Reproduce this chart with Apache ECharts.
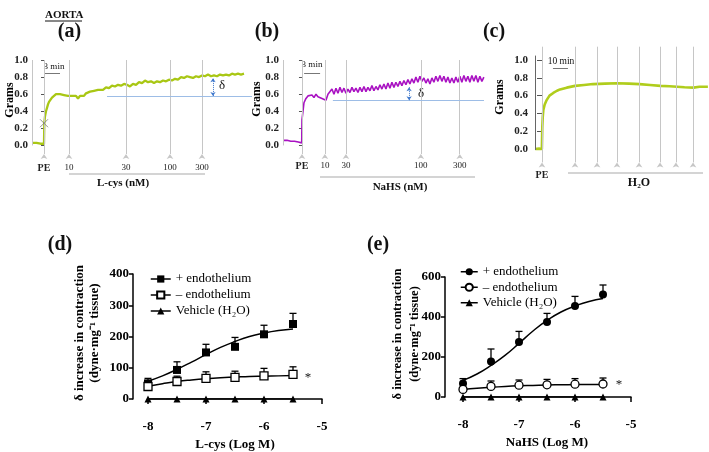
<!DOCTYPE html>
<html><head><meta charset="utf-8">
<script src="https://cdn.jsdelivr.net/npm/echarts@6/dist/echarts.min.js"></script>
<style>html,body{margin:0;padding:0;background:#fff}#c{width:709px;height:452px}</style>
</head><body><div id="c"></div><script>
const SERIF = '"Liberation Serif","Times New Roman",serif';

// ---------- Panel (a): L-cys trace (time in min, tension in grams) ----------
const aTrace = [[-2.3,0.03],[-1.9,0.02],[-1.5,0.03],[-1.1,0.01],[-0.7,0.02],[-0.3,0.01],[0,0.02],[0.06,0.26],[0.2,0.34],[0.4,0.4],[0.6,0.44],[0.8,0.48],[1.0,0.51],[1.2,0.53],[1.6,0.56],[2.0,0.58],[2.4,0.6],[2.8,0.61],[3.2,0.6],[3.6,0.62],[4.0,0.59],[4.4,0.61],[4.8,0.58],[5.2,0.6],[5.6,0.58],[6.0,0.56],[6.4,0.58],[6.8,0.55],[7.2,0.58],[7.6,0.6],[8.0,0.58],[8.4,0.61],[8.8,0.6],[9.2,0.63],[9.6,0.62],[10.0,0.64],[10.4,0.62],[10.8,0.65],[11.2,0.66],[11.8,0.65],[12.4,0.68],[13.0,0.67],[13.6,0.7],[14.2,0.69],[14.8,0.71],[15.4,0.7],[16.0,0.72],[16.6,0.71],[17.2,0.69],[17.8,0.72],[18.4,0.71],[19.0,0.74],[19.6,0.73],[20.2,0.76],[20.8,0.74],[21.4,0.75],[22.0,0.73],[22.6,0.75],[23.2,0.74],[23.8,0.76],[24.4,0.75],[25.0,0.77],[25.6,0.76],[26.2,0.78],[26.8,0.77],[27.4,0.8],[28.0,0.79],[28.6,0.81],[29.2,0.8],[29.8,0.79],[30.4,0.81],[31.0,0.8],[31.6,0.82],[32.2,0.81],[32.8,0.83],[33.4,0.81],[34.0,0.82],[34.6,0.81],[35.2,0.83],[35.8,0.82],[36.4,0.83],[37.0,0.82],[37.6,0.84],[38.2,0.83],[38.8,0.84],[39.4,0.83],[40.0,0.84]];
const aDoseT = [0, 5, 16.4, 25.2, 31.6];
const aDoseLbl = ['PE', '10', '30', '100', '300'];
const aBaseline = [[12.6, 0.58], [41.6, 0.58]];
const aDelta = [[33.8, 0.58], [33.8, 0.785]];
const aScaleBar = [[0.2, 0.84], [3.2, 0.84]];
const aCross = [[0, 0.26]];

// ---------- Panel (b): NaHS trace ----------
const bPre = [[-3.5,0.06],[-3.15,0.05],[-2.8,0.06],[-2.45,0.04],[-2.1,0.05],[-1.75,0.03],[-1.4,0.05],[-1.05,0.03],[-0.7,0.04],[-0.35,0.02],[-0.05,0.03]];
const bStep = 0.375;
const bPost = [0.30,0.50,0.55,0.58,0.56,0.59,0.56,0.60,0.57,0.59,0.55,0.57,0.53,0.60,0.58,0.66,0.60,0.67,0.61,0.68,0.62,0.67,0.61,0.66,0.62,0.68,0.63,0.67,0.62,0.68,0.63,0.69,0.63,0.68,0.64,0.70,0.64,0.69,0.65,0.71,0.66,0.72,0.66,0.73,0.67,0.74,0.68,0.74,0.69,0.75,0.70,0.76,0.71,0.77,0.72,0.78,0.73,0.80,0.74,0.81,0.75,0.79,0.73,0.78,0.72,0.79,0.74,0.81,0.75,0.82,0.75,0.81,0.74,0.80,0.73,0.79,0.73,0.80,0.74,0.81,0.74,0.82,0.75,0.81,0.74,0.82,0.75,0.82,0.74,0.81,0.75,0.80];
const bDoseT = [0, 4.3, 8.25, 22.3, 29.6];
const bDoseLbl = ['PE', '10', '30', '100', '300'];
const bBaseline = [[5.8, 0.53], [34.15, 0.53]];
const bDelta = [[20.1, 0.53], [20.1, 0.68]];
const bScaleBar = [[0.4, 0.85], [3.4, 0.85]];

// ---------- Panel (c): vehicle (H2O) trace ----------
const cTrace = [[-4.6,0.0],[-2,0.005],[-0.1,0.0],[0,0.0],[0.2,0.25],[0.5,0.36],[0.9,0.44],[1.8,0.5],[3.1,0.55],[5,0.6],[7.5,0.63],[10,0.655],[12,0.67],[16.5,0.69],[22,0.71],[28,0.72],[34,0.73],[42,0.735],[50,0.74],[58,0.735],[65,0.73],[72,0.72],[79,0.71],[85,0.705],[90,0.7],[95,0.695],[101,0.69],[105,0.7],[110.6,0.7]];
const cDoseT = [0, 22, 36.7, 50, 64.7, 78.7, 89.3, 100.7];
const cDoseLbl = ['PE', '', '', '', '', '', '', ''];
const cScaleBar = [[7.3, 0.91], [17.3, 0.91]];

const gramTicks = [0, 0.2, 0.4, 0.6, 0.8, 1.0];

// ---------- Panels (d), (e): concentration-response ----------
const logX = [-8, -7.5, -7, -6.5, -6, -5.5];
const fitX = [-8, -7.75, -7.5, -7.25, -7, -6.75, -6.5, -6.25, -6, -5.75, -5.5];

const dPlus = [50, 93, 149, 167, 207, 240];
const dPlusTop = [66, 119, 175, 197, 236, 274];
const dMinus = [40, 56, 66, 69, 74, 79];
const dMinusTop = [52, 73, 87, 89, 98, 103];
const dVeh = [0, 0, 0, 0, 0, 0];
const dPlusFit = [57, 74, 95, 118, 142, 165, 184, 200, 211, 219, 224];
const dMinusFit = [41, 49, 56, 61, 65, 68, 70, 72, 73, 74, 75];

const ePlus = [67, 178, 275, 375, 455, 512];
const ePlusTop = [92, 240, 328, 418, 503, 560];
const eMinus = [38, 53, 59, 61, 64, 65];
const eMinusTop = [45, 80, 85, 88, 92, 95];
const eVeh = [0, 0, 0, 0, 0, 0];
const ePlusFit = [83, 115, 158, 208, 268, 330, 383, 425, 455, 478, 492];
const eMinusFit = [38, 44, 49, 53, 56, 58, 60, 61, 62, 63, 63];

const legendNames = ['+ endothelium', '– endothelium', 'Vehicle (H₂O)'];

// ---------- helpers ----------
const zip = (xs, ys) => xs.map((x, i) => [x, ys[i]]);
const GREEN = '#a9c714', GREEN2 = '#b0cd1c', PURPLE = '#a912c2';

function traceSeries(idx, data, color, width) {
  return {type: 'line', xAxisIndex: idx, yAxisIndex: idx, data, symbol: 'none', silent: true,
    lineStyle: {color, width}, z: 4, animation: false};
}
function doseSeries(idx, times, labels, yMin, yMax, dist) {
  return {type: 'line', xAxisIndex: idx, yAxisIndex: idx, data: [], silent: true, z: 2,
    markLine: {silent: true, animation: false, symbol: 'none',
      lineStyle: {color: '#c6c6c6', width: 1, type: 'solid'},
      label: {show: true, position: 'start', distance: dist, formatter: '{b}', fontFamily: SERIF, fontSize: 9, color: '#222'},
      itemStyle: {color: '#8a8a8a'},
      data: times.map((t, i) => [
        {coord: [t, yMin], name: labels[i], symbol: 'arrow', symbolSize: 5, symbolRotate: 0,
          label: {fontWeight: i === 0 ? 'bold' : 'normal', fontSize: i === 0 ? 10 : 9}},
        {coord: [t, yMax], symbol: 'none', symbolSize: 0}])}};
}
function annSeries(idx, items) {
  return {type: 'line', xAxisIndex: idx, yAxisIndex: idx, data: [], silent: true, z: 3,
    markLine: {silent: true, animation: false, symbol: 'none', label: {show: false}, data: items}};
}
function seg(p, q, style, sym) {
  const a = {coord: p, lineStyle: style, symbol: 'none'};
  const b = {coord: q, symbol: 'none'};
  if (sym) { a.symbol = sym; b.symbol = sym; a.symbolSize = 4; b.symbolSize = 4; }
  return [a, b];
}
function traceYAxis(idx, min, max, tickLen, margin, pad) {
  return {type: 'value', gridIndex: idx, min, max, splitLine: {show: false},
    axisLine: {show: false},
    axisTick: {show: true, customValues: gramTicks, length: tickLen, lineStyle: {color: '#555', width: 1}},
    axisLabel: {customValues: gramTicks, formatter: v => v.toFixed(1), fontFamily: SERIF, fontWeight: 'bold', fontSize: 11, color: '#222', margin, padding: pad}};
}
function errSeries(xi, xs, mean, top) {
  return {type: 'custom', xAxisIndex: xi, yAxisIndex: xi, silent: true, z: 3,
    data: xs.map((x, i) => [x, mean[i], top[i]]),
    renderItem(params, api) {
      const p0 = api.coord([api.value(0), api.value(1)]);
      const p1 = api.coord([api.value(0), api.value(2)]);
      const w = 3.5;
      return {type: 'group', children: [
        {type: 'line', shape: {x1: p0[0], y1: p0[1], x2: p1[0], y2: p1[1]}, style: {stroke: '#000', lineWidth: 1.3}},
        {type: 'line', shape: {x1: p1[0] - w, y1: p1[1], x2: p1[0] + w, y2: p1[1]}, style: {stroke: '#000', lineWidth: 1.3}}]};
    }};
}
function fitSeries(xi, ys) {
  return {type: 'line', xAxisIndex: xi, yAxisIndex: xi, data: zip(fitX, ys), smooth: true, symbol: 'none', silent: true,
    lineStyle: {color: '#000', width: 1.5}, z: 2};
}
function ptSeries(xi, name, ys, symbol, filled, showLine) {
  return {type: 'line', name, xAxisIndex: xi, yAxisIndex: xi, data: zip(logX, ys), symbol, symbolSize: symbol === 'triangle' ? 7 : 8,
    showSymbol: true, silent: true, z: 5,
    itemStyle: filled ? {color: '#000'} : {color: '#fff', borderColor: '#000', borderWidth: 1.3},
    lineStyle: showLine ? {color: '#000', width: 1.5} : {color: '#000', width: 1.5, opacity: 0}};
}
function doseXAxis(idx, name) {
  return {type: 'value', gridIndex: idx, min: -8, max: -5, interval: 1, offset: 14,
    axisLine: {show: true, lineStyle: {color: '#000', width: 1.5}},
    axisTick: {show: true, length: 5, lineStyle: {color: '#000', width: 1.5}},
    axisLabel: {fontFamily: SERIF, fontWeight: 'bold', fontSize: 13, color: '#000', margin: 7},
    splitLine: {show: false},
    name, nameLocation: 'middle', nameGap: 25,
    nameTextStyle: {fontFamily: SERIF, fontWeight: 'bold', fontSize: 13, color: '#000'}};
}
function respYAxis(idx, max, interval, offset) {
  return {type: 'value', gridIndex: idx, min: 0, max, interval, offset,
    axisLine: {show: true, lineStyle: {color: '#000', width: 1.5}},
    axisTick: {show: true, length: 4, lineStyle: {color: '#000', width: 1.5}},
    axisLabel: {fontFamily: SERIF, fontWeight: 'bold', fontSize: 13, color: '#000', margin: 4},
    splitLine: {show: false}};
}
function txt(x, y, text, size, weight, align) {
  const a = align || 'center';
  return {type: 'text', x, y, silent: true,
    style: {text, font: `${weight} ${size}px ${SERIF}`, fill: '#111', align: a, verticalAlign: 'middle', textAlign: a, textVerticalAlign: 'middle'}};
}
function vtxt(x, y, text, size) {
  return {type: 'text', x, y, rotation: Math.PI / 2, silent: true,
    style: {text, font: `bold ${size}px ${SERIF}`, fill: '#000', align: 'center', verticalAlign: 'middle', textAlign: 'center', textVerticalAlign: 'middle'}};
}
function hline(x1, x2, y, color, w) {
  return {type: 'line', silent: true, shape: {x1, y1: y, x2, y2: y}, style: {stroke: color, lineWidth: w}};
}

const blue = {color: '#9dbde6', width: 1, type: 'solid'};
const blueArrow = {color: '#3f78cc', width: 1, type: 'dotted'};
const barStyle = {color: '#777', width: 1, type: 'solid'};

const bTrace = bPre.concat(bPost.map((v, i) => [i * bStep, v]));

const option = {
  animation: false,
  backgroundColor: '#fff',
  textStyle: {fontFamily: SERIF},
  grid: [
    {left: 32, top: 60, width: 220, height: 94},
    {left: 283, top: 60, width: 201, height: 94},
    {left: 535, top: 46.7, width: 173, height: 115.7},
    {left: 148, top: 274, width: 174, height: 125},
    {left: 463, top: 277, width: 168, height: 120}
  ],
  xAxis: [
    {type: 'value', gridIndex: 0, min: -2.4, max: 41.6, show: false},
    {type: 'value', gridIndex: 1, min: -3.56, max: 34.15, show: false},
    {type: 'value', gridIndex: 2, min: -4.67, max: 110.67, show: false},
    doseXAxis(3, 'L-cys (Log M)'),
    doseXAxis(4, 'NaHS (Log M)')
  ],
  yAxis: [
    traceYAxis(0, -0.1, 1.0, 3, 4, [0, 0, 0, 0]),
    traceYAxis(1, -0.1, 1.0, 3, 4, [0, 0, 0, 0]),
    traceYAxis(2, -0.15, 1.15, 5, 7, [0, 0, 6, 0]),
    respYAxis(3, 400, 100, 15),
    respYAxis(4, 600, 200, 18)
  ],
  legend: [
    {left: 145, top: 266, orient: 'vertical', itemWidth: 20, itemHeight: 9, itemGap: 0,
      data: legendNames, selectedMode: false,
      textStyle: {fontFamily: SERIF, fontSize: 13, color: '#000', lineHeight: 16},
      lineStyle: {color: '#000', width: 1.5, opacity: 1}},
    {left: 455, top: 259, orient: 'vertical', itemWidth: 17, itemHeight: 9, itemGap: 0,
      data: legendNames.map(n => n + '\u200b'), selectedMode: false,
      textStyle: {fontFamily: SERIF, fontSize: 13, color: '#000', lineHeight: 15.5},
      lineStyle: {color: '#000', width: 1.5, opacity: 1}}
  ],
  series: [
    // (a)
    doseSeries(0, aDoseT, aDoseLbl, -0.1, 1.0, 9),
    annSeries(0, [
      seg([-2.4, 0], [-2.4, 1.0], {color: '#c6c6c6', width: 1, type: 'solid'}),
      seg(aBaseline[0], aBaseline[1], blue),
      seg(aDelta[0], aDelta[1], blueArrow, 'arrow'),
      seg(aScaleBar[0], aScaleBar[1], barStyle)
    ]),
    traceSeries(0, aTrace, GREEN, 2.3),
    {type: 'scatter', xAxisIndex: 0, yAxisIndex: 0, data: aCross, silent: true, z: 6,
      symbol: 'path://M0,0L10,10M10,0L0,10', symbolSize: 8,
      itemStyle: {color: 'none', borderColor: '#777', borderWidth: 1}},
    // (b)
    doseSeries(1, bDoseT, bDoseLbl, -0.1, 1.0, 7),
    annSeries(1, [
      seg([-3.56, 0], [-3.56, 1.0], {color: '#c6c6c6', width: 1, type: 'solid'}),
      seg(bBaseline[0], bBaseline[1], blue),
      seg(bDelta[0], bDelta[1], blueArrow, 'arrow'),
      seg(bScaleBar[0], bScaleBar[1], barStyle)
    ]),
    traceSeries(1, bTrace, PURPLE, 1.6),
    // (c)
    doseSeries(2, cDoseT, cDoseLbl, -0.15, 1.15, 8),
    annSeries(2, [
      seg([-4.67, -0.01], [-4.67, 1.05], {color: '#666', width: 1, type: 'solid'}),
      seg(cScaleBar[0], cScaleBar[1], barStyle)
    ]),
    traceSeries(2, cTrace, GREEN2, 2.6),
    // (d)
    fitSeries(3, dPlusFit),
    fitSeries(3, dMinusFit),
    errSeries(3, logX, dPlus, dPlusTop),
    errSeries(3, logX, dMinus, dMinusTop),
    ptSeries(3, legendNames[0], dPlus, 'rect', true, false),
    ptSeries(3, legendNames[1], dMinus, 'rect', false, false),
    ptSeries(3, legendNames[2], dVeh, 'triangle', true, true),
    // (e)
    fitSeries(4, ePlusFit),
    fitSeries(4, eMinusFit),
    errSeries(4, logX, ePlus, ePlusTop),
    errSeries(4, logX, eMinus, eMinusTop),
    ptSeries(4, legendNames[0] + '\u200b', ePlus, 'circle', true, false),
    ptSeries(4, legendNames[1] + '\u200b', eMinus, 'circle', false, false),
    ptSeries(4, legendNames[2] + '\u200b', eVeh, 'triangle', true, true)
  ],
  graphic: [
    txt(45, 15, 'AORTA', 11, 'bold', 'left'),
    hline(45, 82, 21, '#111', 1),
    txt(69.5, 32, '(a)', 20, 'bold'),
    txt(267, 32, '(b)', 20, 'bold'),
    txt(494, 32, '(c)', 20, 'bold'),
    txt(60, 245, '(d)', 20, 'bold'),
    txt(378, 245, '(e)', 20, 'bold'),
    vtxt(10, 100, 'Grams', 12),
    vtxt(257, 99, 'Grams', 12),
    vtxt(500, 97, 'Grams', 12),
    txt(54, 67, '3 min', 9, 'normal'),
    txt(312, 65, '3 min', 9, 'normal'),
    txt(561, 61, '10 min', 9.5, 'normal'),
    txt(222, 86, 'δ', 13, 'normal'),
    txt(421, 94, 'δ', 13, 'normal'),
    hline(69, 205, 174, '#aaa', 1.2),
    hline(320, 475, 177, '#aaa', 1.2),
    hline(568, 703, 173, '#aaa', 1.2),
    txt(123, 183, 'L-cys (nM)', 11, 'bold'),
    txt(400, 187, 'NaHS (nM)', 11, 'bold'),
    txt(639, 183, 'H₂O', 12, 'bold'),
    vtxt(80, 333, 'δ increase in contraction', 13),
    vtxt(95, 333, '(dyne·mg⁻¹ tissue)', 13),
    vtxt(398, 334, 'δ increase in contraction', 12.5),
    vtxt(415, 334, '(dyne·mg⁻¹ tissue)', 12.5),
    txt(308, 378, '*', 13, 'normal'),
    txt(619, 385, '*', 13, 'normal')
  ]
};
const chart = echarts.init(document.getElementById('c'), null, {renderer: 'canvas'});
chart.setOption(option);
</script></body></html>
